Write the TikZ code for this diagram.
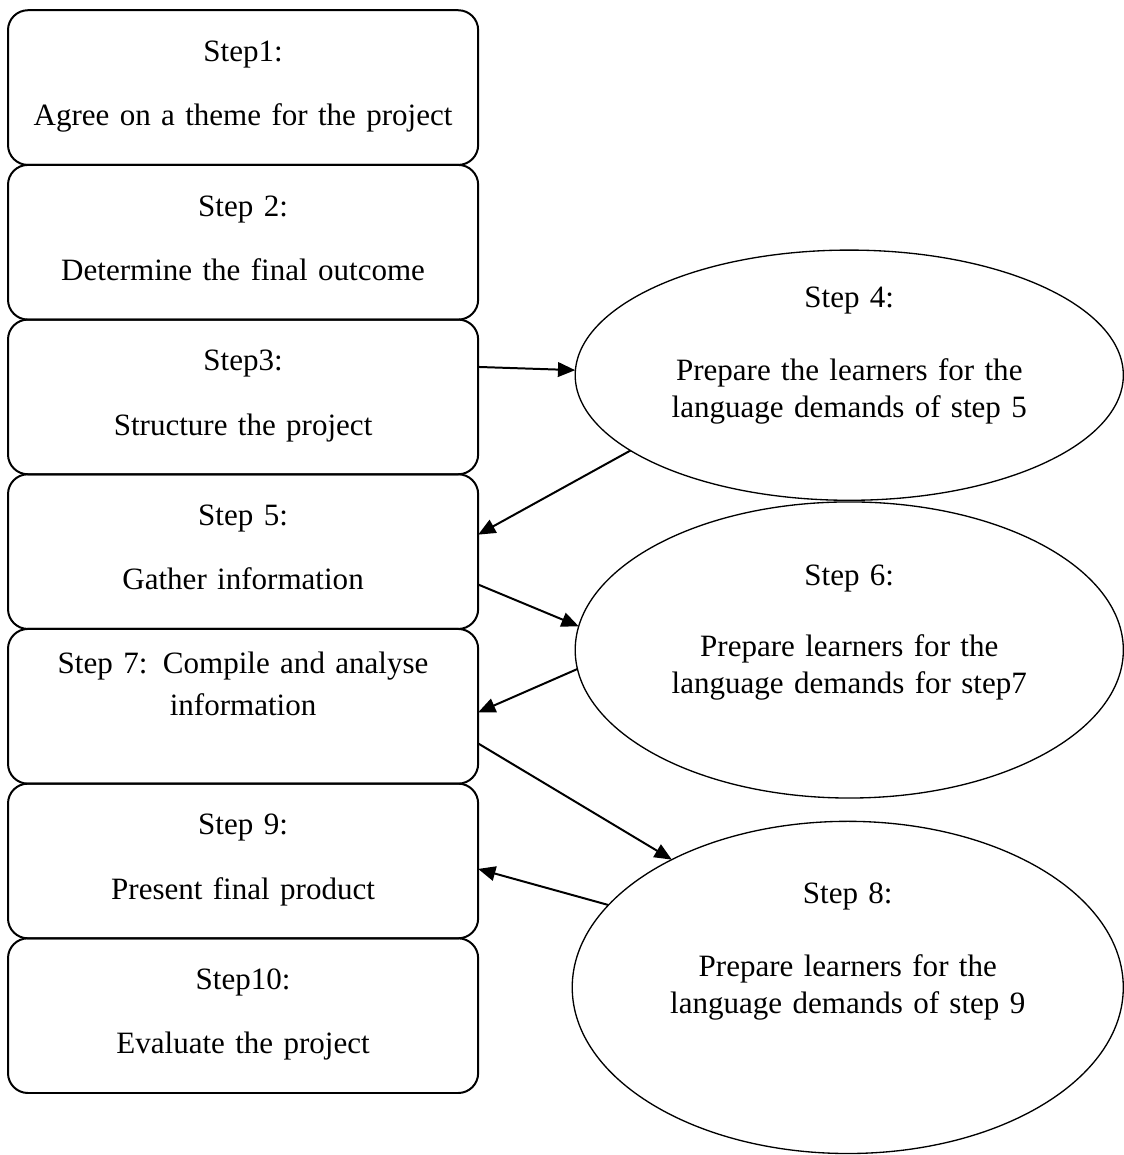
\documentclass[tikz,border=0pt]{standalone}
\usepackage{fontspec}
\setmainfont{Liberation Serif}
\usetikzlibrary{positioning,shapes.geometric,arrows.meta}

\begin{document}
\begin{tikzpicture}[
		stepbox/.style={draw, rectangle, rounded corners=7.5pt, line width=0.75pt, minimum width=177.2pt, minimum height=58.3pt, text width=170pt, align=center, inner sep=1pt, outer sep=0pt, text height=0pt, text depth=19.6pt, font=\fontsize{11.7}{16}\selectfont},
		prepare/.style={draw, ellipse, line width=0.5pt, text width=142pt, align=center, inner sep=0pt, outer sep=0pt, text height=0pt, font=\fontsize{11.7}{14}\selectfont},
		flow/.style={-{Triangle[length=6.5pt, width=5.5pt]}, line width=0.75pt}]
				\useasboundingbox (0,0) rectangle (14.88,-15.30);
				\node[stepbox] (S1)at(3.22, -1.16) {Step1:\\[8.2pt]Agree on a theme for the project};
				\node[stepbox, below=0pt of S1] (S2) {Step 2:\\[8.2pt]Determine the final outcome};
				\node[stepbox, below=0pt of S2] (S3) {Step3:\\[8.2pt]Structure the project};
				\node[stepbox, below=0pt of S3] (S5) {Step 5:\\[8.2pt]Gather information};
				\node[stepbox, below=0pt of S5, text depth=24.9pt] (S7) {Step 7: Compile and analyse\\information};
				\node[stepbox, below=0pt of S7] (S9) {Step 9:\\[8.2pt]Present final product};
				\node[stepbox, below=0pt of S9] (S10) {Step10:\\[8.2pt]Evaluate the project};
				\node[prepare, minimum width=206.6pt, minimum height=94.3pt, text depth=51.3pt] (S4)at(11.25, -4.97) {Step 4:\\[13.5pt]Prepare the learners for the\\language demands of step 5};
				\node[prepare, minimum width=206.6pt, minimum height=111.6pt, text depth=48.3pt] (S6)at(11.25, -8.61) {Step 6:\\[12.5pt]Prepare learners for the\\language demands for step7};
				\node[prepare, minimum width=207.7pt, minimum height=125.2pt, text depth=63.3pt] (S8)at(11.23, -13.08) {Step 8:\\[13.5pt]Prepare learners for the\\language demands of step 9};
				\draw[flow] ([yshift=11.3pt]S3.east) -- ([yshift=1.9pt]S4.west);
				\draw[flow] (S4.199) -- ([yshift=6.4pt]S5.east);
				\draw[flow] ([yshift=-12.4pt]S5.east) -- (S6.175);
				\draw[flow] (S6.184) -- ([yshift=-2.3pt]S7.east);
				\draw[flow] ([yshift=-14pt]S7.east) -- (S8.144);
				\draw[flow] (S8.161) -- ([yshift=-3pt]S9.east);
			\end{tikzpicture}
\end{document}
